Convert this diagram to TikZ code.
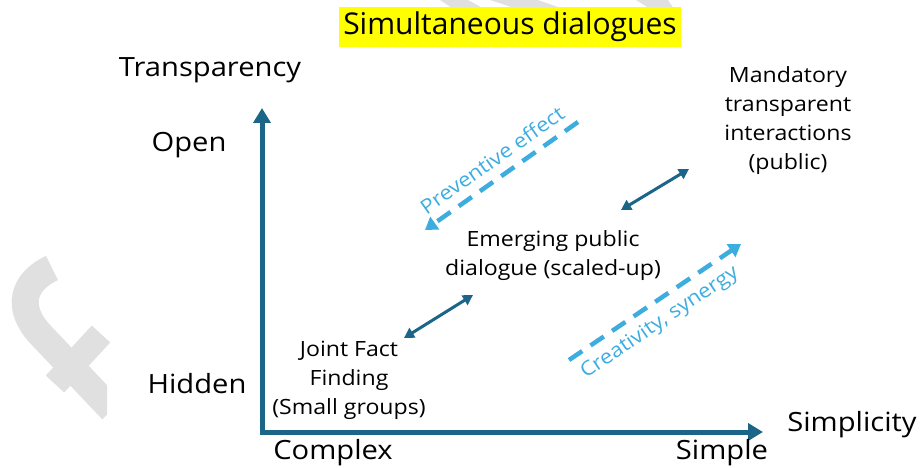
\documentclass[tikz,border=0pt]{standalone}
\usepackage{fontspec}
\setmainfont{Open Sans}[FakeStretch=1.1]
\newfontfamily\titlefont{Open Sans}
\usetikzlibrary{arrows.meta}

\definecolor{axisblue}{HTML}{1B6589}
\definecolor{skyblue}{HTML}{3DADE0}
\definecolor{marker}{HTML}{FFFF00}
\definecolor{logogray}{HTML}{E0E0E0}

\tikzset{
  axis/.style={draw=axisblue, line width=5pt, line join=miter,
    {Triangle[width=17pt,length=15pt]}-{Triangle[width=17pt,length=15pt]}},
  link/.style={draw=axisblue, line width=3pt,
    {Triangle[width=11pt,length=10pt]}-{Triangle[width=11pt,length=10pt]}},
  trend/.style={draw=skyblue, line width=4.5pt, dash pattern=on 16pt off 10pt,
    -{Triangle[width=15pt,length=12pt]}},
  axislabel/.style={font=\fontsize{26.5}{30}\selectfont, text=black, inner sep=0pt},
  stage/.style={font=\fontsize{21}{29}\selectfont, text=black, align=center, inner sep=0pt},
  trendlabel/.style={font=\fontsize{20}{24}\selectfont, text=skyblue, inner sep=0pt},
}

\begin{document}
\begin{tikzpicture}[x=1pt,y=-1pt]
\useasboundingbox (0,0) rectangle (922,468);

% faint logo watermark
\begin{scope}
  \clip (0,240) rectangle (107,420);
  \draw[logogray, line width=27pt] (52,268) .. controls (22,282) and (16,308) .. (40,334) -- (112,410);
\end{scope}
\draw[logogray, line width=25pt] (101,334) -- (55,384);
\fill[logogray] (440,0) -- (468,0) -- (490,12) -- (458,12) -- cycle;
\fill[logogray] (490,0) -- (538,0) -- (572,12) -- (526,12) -- cycle;
\fill[logogray] (636,0) -- (668,0) -- (676,12) -- (655,12) -- cycle;

% title
\node[fill=marker, inner xsep=4pt, inner ysep=3pt, minimum width=338pt, minimum height=40pt,
      font=\titlefont\fontsize{30}{36}\selectfont] (title) at (510,27) {Simultaneous dialogues};

% axes
\coordinate (origin) at (262,432);
\coordinate (ytip) at (262,108);
\coordinate (xtip) at (763,432);
\draw[axis] (ytip) -- (origin) -- (xtip);

% axis labels
\node[axislabel] (transp) at (210,70) {Transparency};
\node[axislabel] (open) at (189,145) {Open};
\node[axislabel] (hidden) at (197,384) {Hidden};
\node[axislabel] (complex) at (333,453) {Complex};
\node[axislabel] (simple) at (722,453) {Simple};
\node[axislabel] (simplicity) at (852,425) {Simplicity};

% stages
\node[stage] (joint) at (349,380) {Joint Fact\\Finding\\(Small groups)};
\node[stage] (emerging) at (553,256) {Emerging public\\dialogue (scaled-up)};
\node[stage] (mandatory) at (788,121) {Mandatory\\transparent\\interactions\\(public)};

% links between stages
\coordinate (l1a) at (404,338);
\coordinate (l1b) at (473,295);
\coordinate (l2a) at (621,210);
\coordinate (l2b) at (689,169);
\draw[link] (l1a) -- (l1b);
\draw[link] (l2a) -- (l2b);

% trends
\coordinate (p1) at (578,122);
\coordinate (p2) at (425,230);
\draw[trend] (p1) -- (p2);
\node[trendlabel, rotate=35.2] (prev) at (492,160) {Preventive effect};

\coordinate (c1) at (569,360);
\coordinate (c2) at (741,244);
\draw[trend] (c1) -- (c2);
\node[trendlabel, rotate=34] (creat) at (660,323) {Creativity, synergy};
\end{tikzpicture}
\end{document}
